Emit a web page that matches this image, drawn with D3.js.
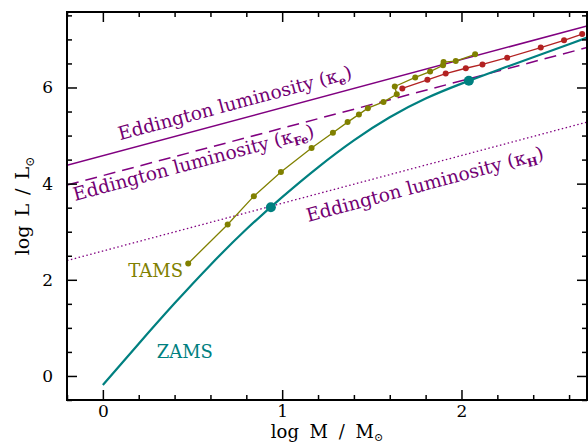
<!DOCTYPE html>
<html><head><meta charset="utf-8">
<script src="https://cdn.jsdelivr.net/npm/d3@7"></script>
<style>
html,body{margin:0;padding:0;background:#fff;}
svg{display:block;}
text{font-family:"DejaVu Serif",serif;}
</style></head>
<body>
<svg id="chart" width="588" height="448"></svg>
<script>
// ---- data ----
const zamsLogM = [0, 0.2, 0.4, 0.6, 0.8, 1.0, 1.2, 1.4, 1.6, 1.8, 2.0, 2.2, 2.4, 2.6, 2.7];
const zamsLogL = [-0.19, 0.67, 1.51, 2.31, 3.05, 3.72, 4.34, 4.90, 5.38, 5.77, 6.08, 6.36, 6.63, 6.90, 7.04];
const zamsMarkM = [0.937, 2.041];
const zamsMarkL = [3.51, 6.14];
const tamsLogM = [0.476, 0.696, 0.842, 0.993, 1.164, 1.283, 1.365, 1.428, 1.478, 1.565, 1.639, 1.628, 1.742, 1.825, 1.897, 1.900, 1.968, 2.076];
const tamsLogL = [2.34, 3.15, 3.74, 4.24, 4.74, 5.06, 5.28, 5.44, 5.57, 5.70, 5.86, 6.02, 6.21, 6.33, 6.46, 6.53, 6.55, 6.69];
const redLogM = [1.670, 1.810, 1.912, 2.024, 2.117, 2.255, 2.442, 2.572, 2.673];
const redLogL = [5.98, 6.16, 6.29, 6.40, 6.48, 6.62, 6.83, 6.98, 7.11];
const eddLogM = [-0.2, 2.7];
const eddE  = [4.38, 7.28];
const eddFe = [3.97, 6.83];
const eddH  = [2.40, 5.28];
const xMajor = [0, 1, 2];
const yMajor = [0, 2, 4, 6];

// ---- layout ----
const svg = d3.select("#chart");
const L = 67, R = 587, T = 12, B = 400;
const x = d3.scaleLinear().domain([-0.2, 2.7]).range([L, R]);
const y = d3.scaleLinear().domain([-0.5, 7.57]).range([B, T]);
const purple = "#800080", purpleText = "#730073";
const teal = "#008080", olive = "#808000", red = "#b22222";

svg.append("clipPath").attr("id","clip").append("rect")
  .attr("x", L).attr("y", T).attr("width", R-L).attr("height", B-T);
const g = svg.append("g").attr("clip-path","url(#clip)");
const line = d3.line().x(d=>x(d[0])).y(d=>y(d[1]));

// Eddington lines
const edd = [[eddE, null, 1.5],[eddFe, "12,7", 1.5],[eddH, "1.5,2.5", 1.3]];
edd.forEach(([vals, dash, w]) => {
  g.append("path").datum(eddLogM.map((m,i)=>[m, vals[i]]))
    .attr("d", line).attr("fill","none").attr("stroke", purple)
    .attr("stroke-width", w).attr("stroke-dasharray", dash);
});

// ZAMS
g.append("path").datum(zamsLogM.map((m,i)=>[m, zamsLogL[i]]))
  .attr("d", d3.line().x(d=>x(d[0])).y(d=>y(d[1])).curve(d3.curveNatural))
  .attr("fill","none").attr("stroke", teal).attr("stroke-width", 2.2);

// TAMS
g.append("path").datum(tamsLogM.map((m,i)=>[m, tamsLogL[i]]))
  .attr("d", line).attr("fill","none").attr("stroke", olive).attr("stroke-width", 1.3);
g.selectAll("circle.tams").data(tamsLogM.map((m,i)=>[m, tamsLogL[i]])).enter()
  .append("circle").attr("cx", d=>x(d[0])).attr("cy", d=>y(d[1])).attr("r", 3).attr("fill", olive);

// red track
g.append("path").datum(redLogM.map((m,i)=>[m, redLogL[i]]))
  .attr("d", line).attr("fill","none").attr("stroke", red).attr("stroke-width", 1.3);
g.selectAll("circle.red").data(redLogM.map((m,i)=>[m, redLogL[i]])).enter()
  .append("circle").attr("cx", d=>x(d[0])).attr("cy", d=>y(d[1])).attr("r", 3).attr("fill", red);

// ZAMS markers
g.selectAll("circle.zm").data(zamsMarkM.map((m,i)=>[m, zamsMarkL[i]])).enter()
  .append("circle").attr("cx", d=>x(d[0])).attr("cy", d=>y(d[1])).attr("r", 5).attr("fill", teal);

// ---- axes ----
function axisGroup(axis, tx, ty){
  const a = svg.append("g").attr("transform",`translate(${tx},${ty})`).call(axis);
  a.select(".domain").remove();
  a.selectAll("line").attr("stroke","#000").attr("stroke-width",1.5);
  a.selectAll("text").attr("font-size", 17).attr("font-family","DejaVu Serif").attr("fill","#000");
  return a;
}
const xMinor = d3.range(-0.2, 2.71, 0.2).map(v=>+v.toFixed(2)).filter(v=>xMajor.indexOf(v)<0);
const yMinor = d3.range(-0.5, 7.51, 0.5).filter(v=>yMajor.indexOf(v)<0);
const xAxisG = axisGroup(d3.axisBottom(x).tickValues(xMajor).tickSize(-10).tickPadding(5).tickFormat(d3.format("d")), 0, B);
axisGroup(d3.axisBottom(x).tickValues(xMinor).tickSize(-5).tickFormat(""), 0, B);
axisGroup(d3.axisTop(x).tickValues(xMajor).tickSize(-10).tickFormat(""), 0, T);
axisGroup(d3.axisTop(x).tickValues(xMinor).tickSize(-5).tickFormat(""), 0, T);
axisGroup(d3.axisLeft(y).tickValues(yMajor).tickSize(-10).tickPadding(14).tickFormat(d3.format("d")), L, 0);
axisGroup(d3.axisLeft(y).tickValues(yMinor).tickSize(-5).tickFormat(""), L, 0);
axisGroup(d3.axisRight(y).tickValues(yMajor).tickSize(-10).tickFormat(""), R, 0);
axisGroup(d3.axisRight(y).tickValues(yMinor).tickSize(-5).tickFormat(""), R, 0);

svg.append("rect").attr("x", L).attr("y", T).attr("width", R-L).attr("height", B-T)
  .attr("fill","none").attr("stroke","#000").attr("stroke-width", 2);

// axis titles
const xt = svg.append("text").attr("x", (L+R)/2).attr("y", 436).attr("text-anchor","middle")
  .attr("font-size", 18).attr("word-spacing", 5);
xt.append("tspan").text("log M / M");
xt.append("tspan").attr("font-size", 11).attr("dy", 2.5).text("⊙");
// keep the title clear of the tick labels
let tickBottom = 0;
xAxisG.selectAll("text").each(function(){
  const b = this.getBBox(); tickBottom = Math.max(tickBottom, B + b.y + b.height);
});
const tb = xt.node().getBBox();
if (tb.y < tickBottom + 0.3) xt.attr("y", 436 + (tickBottom + 0.3 - tb.y));

const yt = svg.append("text").attr("transform", `translate(29,${(T+B)/2}) rotate(-90)`)
  .attr("text-anchor","middle").attr("font-size", 19).attr("word-spacing", 3);
yt.append("tspan").text("log L / L");
yt.append("tspan").attr("font-size", 12).attr("dy", 5).text("⊙");

// labels
const angle = Math.atan2(y(eddE[1]) - y(eddE[0]), x(eddLogM[1]) - x(eddLogM[0])) * 180 / Math.PI;
function eddLabel(m, l, sub){
  const t = svg.append("text").attr("transform", `translate(${x(m)},${y(l)}) rotate(${angle})`)
    .attr("font-size", 18.6).attr("fill", purpleText);
  t.append("tspan").text("Eddington luminosity (κ");
  t.append("tspan").attr("font-size", 11.5).attr("dy", 4).attr("font-weight","bold").text(sub);
  t.append("tspan").attr("dy", -4).text(")");
}
eddLabel(0.096, 4.90, "e");
eddLabel(-0.155, 3.64, "Fe");
eddLabel(1.145, 3.20, "H");

svg.append("text").attr("x", x(0.142)).attr("y", y(2.06)).attr("font-size", 18).attr("fill", olive).text("TAMS");
svg.append("text").attr("x", x(0.30)).attr("y", y(0.37)).attr("font-size", 18).attr("fill", teal).text("ZAMS");
</script>
</body></html>
